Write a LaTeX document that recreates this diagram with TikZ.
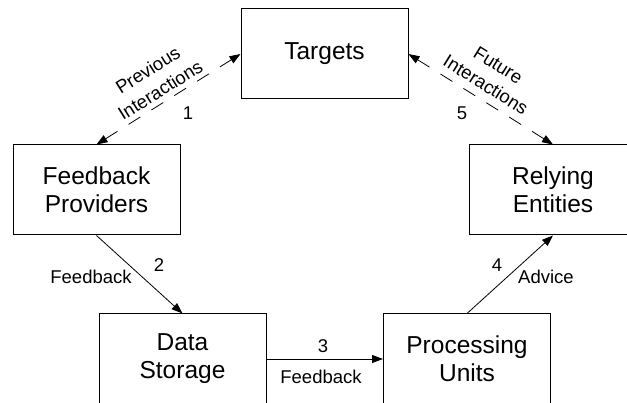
\documentclass[tikz,border=0pt]{standalone}
\usepackage{fontspec}
\setmainfont{Liberation Sans}
\usetikzlibrary{arrows.meta}
\begin{document}
\begin{tikzpicture}[x=1pt,y=-1pt,
  boxnode/.style={draw=black,line width=1pt,minimum width=167pt,minimum height=90pt,inner sep=0pt,align=center,font=\fontsize{24.5}{28}\selectfont},
  lbl/.style={font=\fontsize{18.5}{21}\selectfont,inner sep=0pt,align=center},
  rlbl/.style={font=\fontsize{18.5}{23.5}\selectfont,inner sep=0pt,align=center},
  conn/.style={line width=0.8pt,-{Triangle[length=11pt,width=8pt]}},
  dconn/.style={line width=0.8pt,{Triangle[length=11pt,width=8pt]}-{Triangle[length=11pt,width=8pt]},dash pattern=on 14pt off 13pt}]
\useasboundingbox (0,0) rectangle (627,403);
\clip (0,0) rectangle (627,403);
\node[boxnode] (tg) at (324.5,54) {Targets};
\node[boxnode] (fp) at (96.5,190) {Feedback\\Providers};
\node[boxnode] (re) at (553,190) {Relying\\Entities};
\node[boxnode] (ds) at (182.5,359) {Data\\Storage};
\node[boxnode] (pu) at (467,359) {Processing\\Units};
\draw[dconn] (fp.north) -- (tg.west);
\draw[dconn] (tg.east) -- (re.north);
\draw[conn] (fp.south) -- (ds.north);
\draw[conn] (ds.east) -- (pu.west);
\draw[conn] (pu.north) -- (re.south);
\node[rlbl,rotate=32] (l1) at (154,80) {Previous\\Interactions};
\node[lbl] (n1) at (188,113) {1};
\node[rlbl,rotate=-32] (l5) at (492,75) {Future\\Interactions};
\node[lbl] (n5) at (462,113) {5};
\node[lbl] (l2) at (91,277) {Feedback};
\node[lbl] (n2) at (159,265) {2};
\node[lbl] (n3) at (323,346) {3};
\node[lbl] (l3) at (321,377) {Feedback};
\node[lbl] (n4) at (497,265) {4};
\node[lbl] (l4) at (546,277) {Advice};
\end{tikzpicture}
\end{document}
